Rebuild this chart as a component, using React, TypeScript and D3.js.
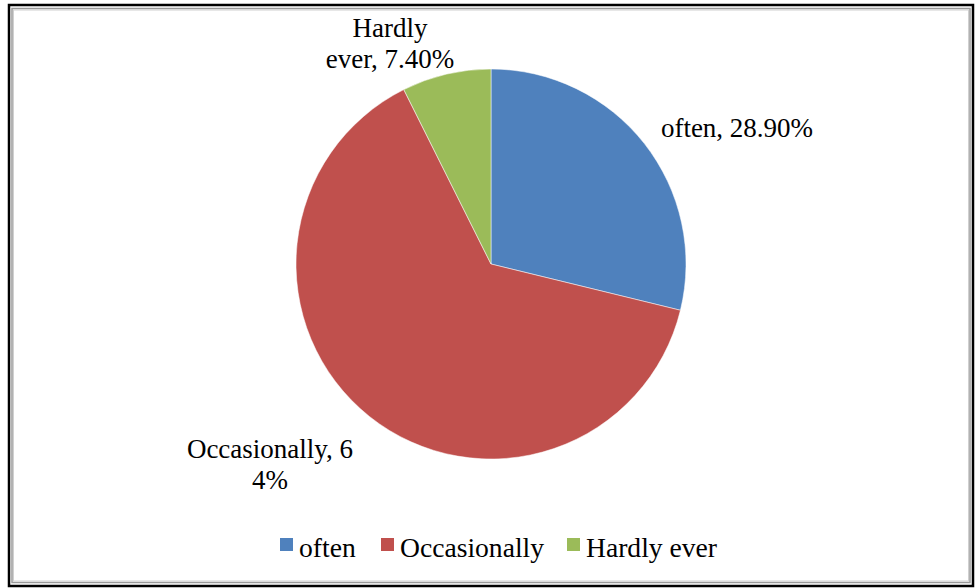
import React from "react";
import * as d3 from "d3";

const categories = ["often", "Occasionally", "Hardly ever"];
const values = [28.9, 64, 7.4];
const sliceLabels = [["often, 28.90%"], ["Occasionally, 6", "4%"], ["Hardly", "ever, 7.40%"]];
const colors = ["#4F81BD", "#C0504D", "#9BBB59"];

const W = 975;
const H = 588;
const FONT = "'Liberation Serif', 'Times New Roman', Times, serif";

export default function App() {
  const cx = 491;
  const cy = 264;
  const r = 195;

  const pie = d3.pie<number>().sort(null).value((d) => d)(values);
  const arc = d3.arc<d3.PieArcDatum<number>>().innerRadius(0).outerRadius(r);

  // label anchor points: [x, first baseline y]
  const labelPos: [number, number][] = [
    [737, 137],
    [270, 458],
    [390, 37],
  ];

  // legend layout
  const legendItems = [
    { sq: 280, tx: 299 },
    { sq: 381, tx: 400 },
    { sq: 567, tx: 586 },
  ];

  return (
    <svg
      width={W}
      height={H}
      fontFamily={FONT}
      style={{ position: "absolute", left: 0, top: 0, background: "#fff" }}
    >
      <rect x={0} y={0} width={W} height={H} fill="#fff" />
      {/* outer frame */}
      <rect x={9} y={5} width={964} height={581} fill="none" stroke="#000" strokeWidth={2.5} />
      <rect x={12} y={8.5} width={958} height={574} fill="none" stroke="#999" strokeWidth={1.5} />
      <rect x={13.5} y={10} width={955} height={571} fill="none" stroke="#d0d0d0" strokeWidth={1} />

      <g transform={`translate(${cx},${cy})`}>
        {pie.map((p, i) => (
          <path key={categories[i]} d={arc(p) || ""} fill={colors[i]} stroke="#fff" strokeWidth={0.5} />
        ))}
      </g>

      {sliceLabels.map((lines, i) => (
        <text key={i} x={labelPos[i][0]} y={labelPos[i][1]} fontSize={27} textAnchor="middle" fill="#000">
          {lines.map((l, j) => (
            <tspan key={j} x={labelPos[i][0]} dy={j === 0 ? 0 : 31}>
              {l}
            </tspan>
          ))}
        </text>
      ))}

      {categories.map((c, i) => (
        <g key={c}>
          <rect x={legendItems[i].sq} y={538} width={13} height={13} fill={colors[i]} />
          <text x={legendItems[i].tx} y={557} fontSize={27.6} fill="#000">
            {c}
          </text>
        </g>
      ))}
    </svg>
  );
}
